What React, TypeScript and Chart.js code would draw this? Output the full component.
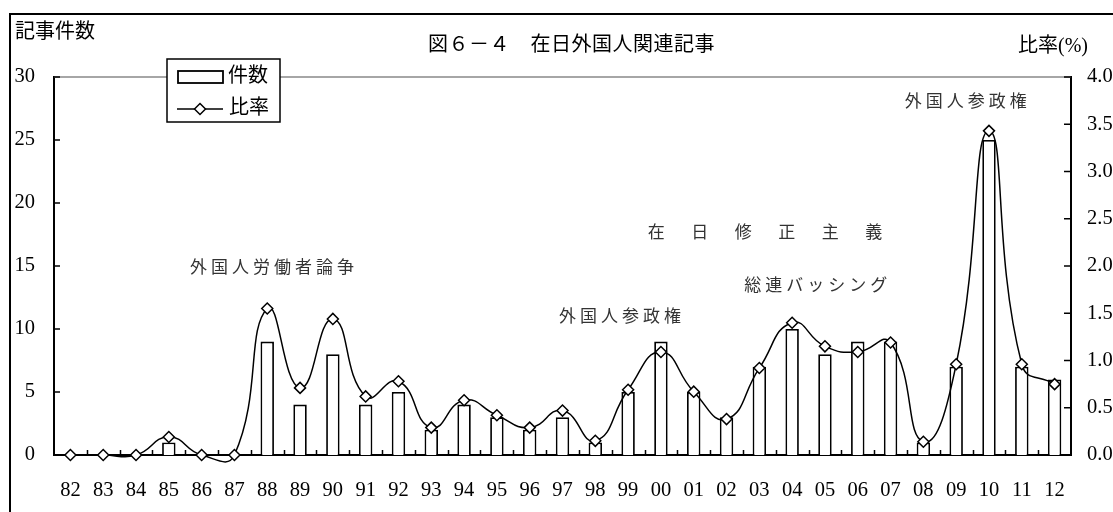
import { useEffect, useRef } from 'react';
import { Chart, registerables } from 'chart.js';

Chart.register(...registerables);

// Article counts and share of all articles, 1982–2012
const years = ['82', '83', '84', '85', '86', '87', '88', '89', '90', '91', '92', '93', '94', '95', '96', '97', '98', '99', '00', '01', '02', '03', '04', '05', '06', '07', '08', '09', '10', '11', '12'];
const articleCounts = [0, 0, 0, 1, 0, 0, 9, 4, 8, 4, 5, 2, 4, 3, 2, 3, 1, 5, 9, 5, 3, 7, 10, 8, 9, 9, 1, 7, 25, 7, 6];
const ratioPercent = [0, 0, 0, 0.19, 0, 0, 1.55, 0.71, 1.44, 0.62, 0.78, 0.29, 0.58, 0.42, 0.29, 0.47, 0.15, 0.69, 1.09, 0.67, 0.38, 0.92, 1.4, 1.15, 1.09, 1.19, 0.14, 0.96, 3.43, 0.96, 0.75];

const countTicks = [0, 5, 10, 15, 20, 25, 30];
const ratioTicks = [0, 0.5, 1, 1.5, 2, 2.5, 3, 3.5, 4];

const countLabel = '件数';
const ratioLabel = '比率';
const titleText = '図６－４　在日外国人関連記事';
const leftAxisTitle = '記事件数';
const rightAxisTitle = '比率(%)';
const noteTexts = ['外国人労働者論争', '外国人参政権', '在日修正主義', '総連バッシング', '外国人参政権'];

const FONT = '"Liberation Serif", "Noto Sans CJK JP", serif';
const NOTE_FONT = '"Noto Sans CJK JP", sans-serif';

// where each note sits: left edge as a category index, vertical centre on the count axis
const notePlacement = [
  { idx: 3.645, count: 14.92, spacing: 4 },
  { idx: 14.89, count: 11.1, spacing: 4 },
  { idx: 17.6, count: 17.7, spacing: 26.5 },
  { idx: 20.54, count: 13.5, spacing: 4 },
  { idx: 25.43, count: 28.17, spacing: 4 },
];

function drawDiamond(ctx: CanvasRenderingContext2D, x: number, y: number, r: number) {
  ctx.beginPath();
  ctx.moveTo(x, y - r);
  ctx.lineTo(x + r, y);
  ctx.lineTo(x, y + r);
  ctx.lineTo(x - r, y);
  ctx.closePath();
  ctx.fillStyle = '#fff';
  ctx.fill();
  ctx.strokeStyle = '#000';
  ctx.lineWidth = 1.5;
  ctx.stroke();
}

const decorPlugin = {
  id: 'decor',
  beforeDraw(chart: any) {
    const { ctx, width, height } = chart;
    ctx.save();
    ctx.fillStyle = '#fff';
    ctx.fillRect(0, 0, width, height);
    ctx.strokeStyle = '#000';
    ctx.lineWidth = 2;
    ctx.strokeRect(10, 14, width + 40, height + 40);
    ctx.restore();
  },
  beforeDatasetsDraw(chart: any) {
    const { ctx, chartArea } = chart;
    const { left, right, top, bottom } = chartArea;
    const xs = chart.scales.x;
    const yl = chart.scales.y;
    const yr = chart.scales.y1;
    ctx.save();
    // upper edge of the plot
    ctx.strokeStyle = '#888';
    ctx.lineWidth = 1.5;
    ctx.beginPath();
    ctx.moveTo(left, top);
    ctx.lineTo(right, top);
    ctx.stroke();
    // inward tick marks
    ctx.strokeStyle = '#000';
    ctx.lineWidth = 1.5;
    ctx.beginPath();
    for (let i = 1; i < years.length; i++) {
      const px = Math.round(xs.getPixelForValue(i - 0.5)) + 0.5;
      ctx.moveTo(px, bottom);
      ctx.lineTo(px, bottom - 5);
    }
    countTicks.forEach((v) => {
      const py = yl.getPixelForValue(v);
      ctx.moveTo(left, py);
      ctx.lineTo(left + 6, py);
    });
    ratioTicks.forEach((v) => {
      const py = yr.getPixelForValue(v);
      ctx.moveTo(right, py);
      ctx.lineTo(right - 7, py);
    });
    ctx.stroke();
    ctx.restore();
  },
  afterDraw(chart: any) {
    const { ctx } = chart;
    const xs = chart.scales.x;
    const yl = chart.scales.y;
    ctx.save();
    // event notes
    ctx.fillStyle = '#333';
    ctx.font = `17px ${NOTE_FONT}`;
    ctx.textAlign = 'left';
    ctx.textBaseline = 'middle';
    noteTexts.forEach((t, i) => {
      const p = notePlacement[i];
      (ctx as any).letterSpacing = `${p.spacing}px`;
      ctx.fillText(t, xs.getPixelForValue(p.idx), yl.getPixelForValue(p.count));
    });

    // titles
    ctx.fillStyle = '#000';
    ctx.font = `20px ${FONT}`;
    (ctx as any).letterSpacing = '0px';
    ctx.fillText(leftAxisTitle, 15, 33);
    ctx.fillText(rightAxisTitle, 1018, 47);
    (ctx as any).letterSpacing = '0.5px';
    ctx.fillText(titleText, 428, 46);
    (ctx as any).letterSpacing = '0px';

    // legend
    const bx = 167, by = 59, bw = 113, bh = 63;
    ctx.fillStyle = '#fff';
    ctx.fillRect(bx, by, bw, bh);
    ctx.strokeStyle = '#000';
    ctx.lineWidth = 1.5;
    ctx.strokeRect(bx, by, bw, bh);
    const ds = chart.data.datasets;
    ctx.lineWidth = 1.8;
    ctx.strokeRect(178, 71, 45, 12);
    ctx.lineWidth = 1.5;
    ctx.beginPath();
    ctx.moveTo(177, 109);
    ctx.lineTo(223, 109);
    ctx.stroke();
    drawDiamond(ctx, 200, 109, 5.5);
    ctx.fillStyle = '#000';
    ctx.font = `20px ${FONT}`;
    ctx.textBaseline = 'middle';
    ctx.fillText(ds[0].label, 228, 77);
    ctx.fillText(ds[1].label, 229, 109);
    ctx.restore();
  },
};

export default function App() {
  const canvasRef = useRef<HTMLCanvasElement | null>(null);

  useEffect(() => {
    const canvas = canvasRef.current;
    if (!canvas) return;
    const tickFont = { family: FONT, size: 20.5 };
    const noGrid = { display: false, drawTicks: false };
    const chart = new Chart(canvas, {
      type: 'bar',
      data: {
        labels: years,
        datasets: [
          {
            type: 'bar',
            label: countLabel,
            data: articleCounts,
            yAxisID: 'y',
            backgroundColor: '#fff',
            borderColor: '#000',
            borderWidth: 1.8,
            barPercentage: 0.41,
            categoryPercentage: 1,
            order: 1,
          },
          {
            type: 'line',
            label: ratioLabel,
            data: ratioPercent,
            yAxisID: 'y1',
            borderColor: '#000',
            borderWidth: 1.5,
            tension: 0.5,
            capBezierPoints: false,
            clip: 10,
            pointStyle: 'rectRot',
            pointRadius: 5.5,
            pointBackgroundColor: '#fff',
            pointBorderColor: '#000',
            pointBorderWidth: 1.5,
            order: 0,
          } as any,
        ],
      },
      options: {
        responsive: false,
        animation: false,
        events: [],
        layout: { padding: { top: 77, left: 0, right: 0, bottom: 0 } },
        plugins: {
          legend: { display: false },
          title: { display: false },
          tooltip: { enabled: false },
        },
        scales: {
          x: {
            type: 'category',
            offset: true,
            grid: noGrid,
            border: { display: true, color: '#000', width: 2 },
            ticks: { color: '#000', font: tickFont, padding: 23, maxRotation: 0, autoSkip: false },
            afterFit: (s: any) => { s.height = 57; },
          },
          y: {
            position: 'left',
            min: 0,
            max: 30,
            grid: noGrid,
            border: { display: true, color: '#000', width: 2 },
            ticks: { color: '#000', font: tickFont, padding: 19, stepSize: 5 },
            afterFit: (s: any) => { s.width = 54; },
          },
          y1: {
            position: 'right',
            min: 0,
            max: 4,
            grid: noGrid,
            border: { display: true, color: '#000', width: 2 },
            ticks: {
              color: '#000',
              font: tickFont,
              padding: 16,
              stepSize: 0.5,
              callback: (v: any) => Number(v).toFixed(1),
            },
            afterFit: (s: any) => { s.width = 42; },
          },
        },
      },
      plugins: [decorPlugin],
    });
    return () => chart.destroy();
  }, []);

  return (
    <div style={{ position: 'fixed', left: 0, top: 0, width: 1113, height: 512, background: '#fff' }}>
      <canvas ref={canvasRef} width={1113} height={512} style={{ display: 'block' }} />
    </div>
  );
}
